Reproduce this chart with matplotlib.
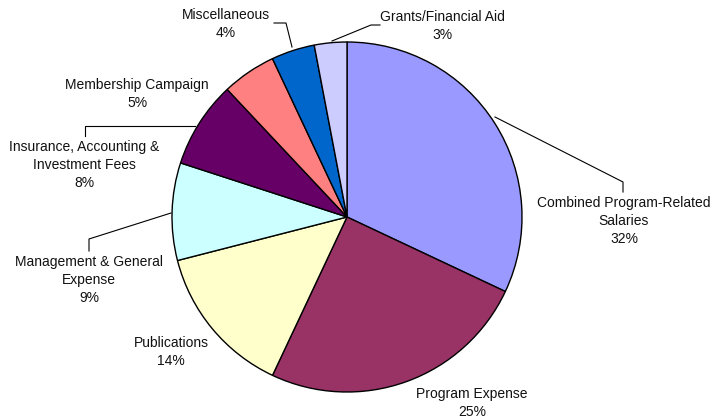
import matplotlib
matplotlib.use("Agg")
import matplotlib.pyplot as plt

# ---- data ----
categories = [
    "Combined Program-Related\nSalaries",
    "Program Expense",
    "Publications",
    "Management & General\nExpense",
    "Insurance, Accounting &\nInvestment Fees",
    "Membership Campaign",
    "Miscellaneous",
    "Grants/Financial Aid",
]
values = [32, 25, 14, 9, 8, 5, 4, 3]
colors = ["#9999FF", "#993366", "#FFFFCC", "#CCFFFF", "#660066",
          "#FF8080", "#0066CC", "#CCCCFF"]

# ---- layout (pixel coords, y from top) ----
W, H = 712, 419
center = (347, 217)
radius = 175
label_pos = [(624, 221), (472, 403), (171, 352), (89, 280),
             (84, 165), (137, 94), (226, 24), (442, 26)]
leaders = [
    [(495, 117), (623, 182), (623, 192)],
    None,
    None,
    [(171, 213), (89, 239), (89, 251)],
    [(195, 126), (85, 126), (85, 136)],
    None,
    [(292, 47), (286, 23), (274, 23)],
    [(332, 41), (371, 25), (380, 25)],
]

plt.rcParams['font.family'] = ['Liberation Sans', 'DejaVu Sans']
fig = plt.figure(figsize=(W / 100, H / 100), dpi=100)
ax = fig.add_axes([0, 0, 1, 1])
ax.set_xlim(0, W)
ax.set_ylim(0, H)
ax.set_aspect('equal')
ax.axis('off')

ax.pie(values, colors=colors, startangle=90, counterclock=False,
       center=(center[0], H - center[1]), radius=radius,
       wedgeprops=dict(edgecolor='black', linewidth=1.0))
ax.set_xlim(0, W)
ax.set_ylim(0, H)

for cat, v, (lx, ly), ld in zip(categories, values, label_pos, leaders):
    ax.text(lx, H - ly, f"{cat}\n{v}%", ha='center', va='center',
            fontsize=10, color='#111111', linespacing=1.38)
    if ld:
        xs = [p[0] for p in ld]
        ys = [H - p[1] for p in ld]
        ax.plot(xs, ys, color='black', linewidth=0.8)

fig.savefig("out.png", dpi=100)
